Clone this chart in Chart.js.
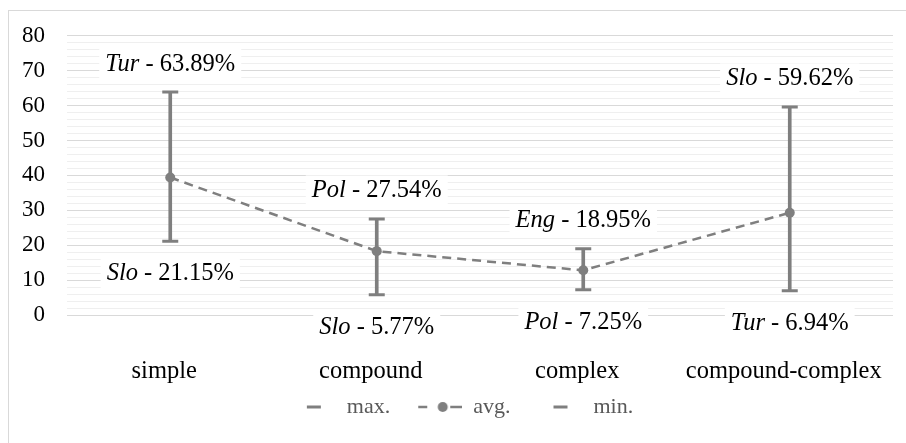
<!DOCTYPE html>
<html>
<head>
<meta charset="utf-8">
<script src="https://cdn.jsdelivr.net/npm/chart.js@4/dist/chart.umd.min.js"></script>
<style>
  body { margin: 0; background: #fff; font-family: "Liberation Serif", serif; }
  #wrap { position: relative; width: 906px; height: 443px; overflow: hidden; }
  #frame { position: absolute; left: 8px; top: 10px; width: 940px; height: 480px; border: 1px solid #d9d9d9; box-sizing: border-box; }
  canvas { position: absolute; left: 0; top: 0; }
</style>
</head>
<body>
<div id="wrap"><div id="frame"></div><canvas id="chart" width="906" height="443"></canvas></div>
<script>
// Sentence types: max / avg / min share with the language that gives the extreme
const categories = ['simple', 'compound', 'complex', 'compound-complex'];
const maxValues = [63.89, 27.54, 18.95, 59.62];
const avgValues = [39.4, 18.3, 12.8, 29.3];
const minValues = [21.15, 5.77, 7.25, 6.94];
const maxLangs = ['Tur', 'Pol', 'Eng', 'Slo'];
const minLangs = ['Slo', 'Slo', 'Pol', 'Tur'];
const seriesNames = ['max.', 'avg.', 'min.'];
const yMin = 0, yMax = 80, yMajor = 10, yMinor = 2;

const GREY = '#7f7f7f';
const SERIF = '"Liberation Serif"';
Chart.defaults.font.family = SERIF;

// legend icons (transparent lead so the gap before each marker matches)
function makeIcon(kind) {
    const c = document.createElement('canvas');
    c.width = 66; c.height = 14;
    const g = c.getContext('2d');
    g.strokeStyle = GREY; g.fillStyle = GREY;
    if (kind === 'cap') {
        g.lineWidth = 3;
        g.beginPath(); g.moveTo(37, 7); g.lineTo(51, 7); g.stroke();
    } else {
        g.lineWidth = 2.5;
        g.beginPath(); g.moveTo(22, 7); g.lineTo(31, 7); g.stroke();
        g.beginPath(); g.moveTo(54, 7); g.lineTo(66, 7); g.stroke();
        g.beginPath(); g.arc(46.5, 7, 5, 0, Math.PI * 2); g.fill();
    }
    return c;
}
const capIcon = makeIcon('cap');
const avgIcon = makeIcon('avg');

function drawLabel(ctx, cx, baseY, lang, value) {
    const italic = 'italic 24.5px ' + SERIF;
    const normal = '24.5px ' + SERIF;
    const rest = ' - ' + value.toFixed(2) + '%';
    ctx.font = italic;
    const w1 = ctx.measureText(lang).width;
    ctx.font = normal;
    const w2 = ctx.measureText(rest).width;
    const left = cx - (w1 + w2) / 2;
    ctx.fillStyle = '#fff';
    ctx.fillRect(left - 6, baseY - 22, w1 + w2 + 12, 30);
    ctx.fillStyle = '#000';
    ctx.textBaseline = 'alphabetic';
    ctx.textAlign = 'left';
    ctx.font = italic;
    ctx.fillText(lang, left, baseY);
    ctx.font = normal;
    ctx.fillText(rest, left + w1, baseY);
}

const pointLabels = {
    id: 'pointLabels',
    beforeDatasetsDraw(chart) {
        const ctx = chart.ctx;
        const xs = chart.scales.x, ys = chart.scales.y;
        ctx.save();
        categories.forEach(function (c, i) {
            const cx = xs.getPixelForValue(i);
            drawLabel(ctx, cx, ys.getPixelForValue(maxValues[i]) - 21.5, maxLangs[i], maxValues[i]);
            drawLabel(ctx, cx, ys.getPixelForValue(minValues[i]) + 39, minLangs[i], minValues[i]);
        });
        ctx.restore();
    }
};

new Chart(document.getElementById('chart'), {
    type: 'line',
    data: {
        labels: categories,
        datasets: [
            {
                type: 'bar',
                label: 'range',
                data: categories.map(function (c, i) { return [minValues[i], maxValues[i]]; }),
                backgroundColor: GREY,
                barThickness: 3,
                order: 4
            },
            {
                label: seriesNames[0],
                data: maxValues,
                showLine: false,
                pointStyle: 'line',
                pointRadius: 8,
                pointHoverRadius: 8,
                pointBorderWidth: 3,
                pointBorderColor: GREY,
                borderColor: GREY,
                order: 2
            },
            {
                label: seriesNames[1],
                data: avgValues,
                borderColor: GREY,
                borderWidth: 2.5,
                borderDash: [9, 6],
                pointRadius: 5,
                pointHoverRadius: 5,
                pointBackgroundColor: GREY,
                pointBorderWidth: 0,
                order: 1
            },
            {
                label: seriesNames[2],
                data: minValues,
                showLine: false,
                pointStyle: 'line',
                pointRadius: 8,
                pointHoverRadius: 8,
                pointBorderWidth: 3,
                pointBorderColor: GREY,
                borderColor: GREY,
                order: 3
            }
        ]
    },
    options: {
        responsive: false,
        animation: false,
        layout: { padding: { top: 34, right: 13, bottom: 15, left: 10 } },
        plugins: {
            tooltip: { enabled: false },
            legend: {
                position: 'bottom',
                labels: {
                    usePointStyle: true,
                    pointStyleWidth: 66,
                    padding: 6,
                    color: '#595959',
                    font: { family: SERIF, size: 22 },
                    generateLabels: function () {
                        return seriesNames.map(function (name, i) {
                            return {
                                text: name,
                                pointStyle: i === 1 ? avgIcon : capIcon,
                                fillStyle: GREY,
                                strokeStyle: GREY,
                                lineWidth: 0,
                                hidden: false,
                                fontColor: '#595959',
                                datasetIndex: i + 1
                            };
                        });
                    }
                }
            }
        },
        scales: {
            x: {
                offset: true,
                grid: { display: false },
                border: { display: false },
                ticks: { color: '#000', font: { family: SERIF, size: 24.5 }, padding: 34, labelOffset: -6 },
                afterFit: function (s) { s.height = 75; s.paddingLeft = 0; s.paddingRight = 0; }
            },
            y: {
                min: yMin,
                max: yMax,
                border: { display: false },
                grid: {
                    drawTicks: false,
                    color: function (ctx) {
                        return ctx.tick && ctx.tick.value % yMajor === 0 ? '#d9d9d9' : '#efefef';
                    }
                },
                ticks: {
                    stepSize: yMinor,
                    autoSkip: false,
                    padding: 22,
                    color: '#000',
                    font: { family: SERIF, size: 23 },
                    callback: function (v) { return v % yMajor === 0 ? v : ''; }
                },
                afterFit: function (s) { s.width = 57; }
            }
        }
    },
    plugins: [pointLabels]
});
</script>
</body>
</html>
